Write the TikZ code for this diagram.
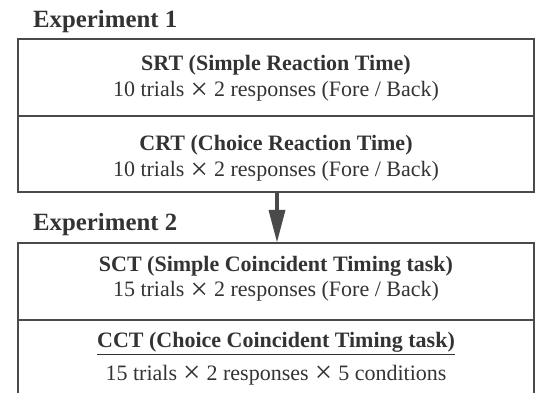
\documentclass[tikz,border=0pt]{standalone}
\usepackage{fontspec}
\setmainfont{Liberation Serif}
\usetikzlibrary{arrows.meta}
\definecolor{ink}{HTML}{333333}
\definecolor{edge}{HTML}{4A4A4A}
\newcommand{\bigx}{\;\raisebox{-2.6pt}{\scalebox{1.4}{×}}\;}
\begin{document}
\begin{tikzpicture}[x=1pt,y=-1pt,
  box/.style={draw=edge,line width=2pt,rectangle,minimum width=516pt,inner sep=0pt},
  head/.style={font=\fontsize{24.8}{28}\selectfont\bfseries,text=ink,anchor=base west,inner sep=0pt},
  title/.style={font=\fontsize{22}{24}\selectfont\bfseries,text=ink,anchor=base,inner sep=0pt},
  body/.style={font=\fontsize{22}{24}\selectfont,text=ink,anchor=base,inner sep=0pt}]
\useasboundingbox (0,0) rectangle (539,393);
\node[head] (e1) at (33,28) {Experiment 1};
\node[head] (e2) at (33,231) {Experiment 2};
\node[box,minimum height=77pt] (srt) at (276,77.5) {};
\node[box,minimum height=76pt] (crt) at (276,154) {};
\node[box,minimum height=77pt] (sct) at (276,281.5) {};
\node[box,minimum height=100pt] (cct) at (276,370) {};
\node[title] (t1) at (276,71) {SRT (Simple Reaction Time)};
\node[body] (b1) at (276,97) {10 trials\bigx 2 responses (Fore / Back)};
\node[title] (t2) at (276,151) {CRT (Choice Reaction Time)};
\node[body] (b2) at (276,177) {10 trials\bigx 2 responses (Fore / Back)};
\node[title] (t3) at (276,272) {SCT (Simple Coincident Timing task)};
\node[body] (b3) at (276,297) {15 trials\bigx 2 responses (Fore / Back)};
\node[title] (t4) at (276,348) {\underline{CCT (Choice Coincident Timing task)}};
\node[body] (b4) at (276,380) {15 trials\bigx 2 responses\bigx 5 conditions};
\draw[edge,fill=edge,line width=4pt,-{Triangle[length=32pt,width=17pt,line width=0pt]}] ([xshift=1pt]crt.south) -- ([xshift=1pt]sct.north);
\end{tikzpicture}
\end{document}
